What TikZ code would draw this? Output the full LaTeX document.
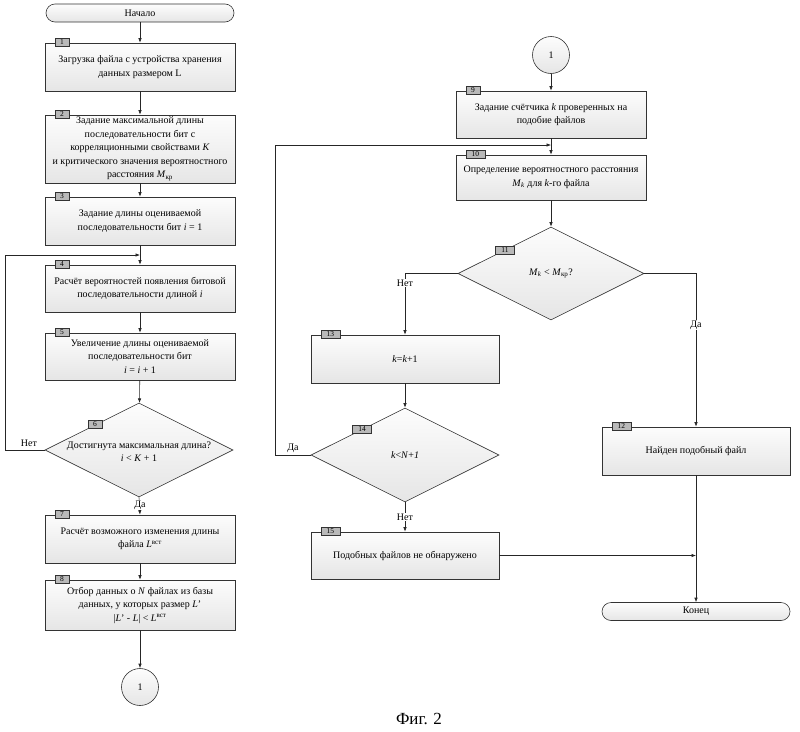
\documentclass[tikz,border=0pt]{standalone}
\usepackage{fontspec}
\setmainfont{Liberation Serif}
\usetikzlibrary{shapes.geometric,arrows.meta,calc}
\newcommand\vi[1]{\textit{#1}}
\begin{document}
\begin{tikzpicture}[x=1pt,y=-1pt,
  shd/.style={top color=gray!2, bottom color=gray!20},
  box/.style={draw=black!80, line width=0.6pt, shd, minimum width=190pt, align=center,
    font=\fontsize{10}{13.5}\selectfont, inner sep=1pt},
  term/.style={box, rounded corners=9pt, minimum width=188pt, minimum height=18pt},
  dia/.style={diamond, draw=black!80, line width=0.6pt, shd, inner sep=0pt, minimum width=188pt, minimum height=94pt},
  dtext/.style={align=center, font=\fontsize{10}{13.5}\selectfont, inner sep=0pt},
  circ/.style={circle, draw=black!80, line width=0.6pt, shd, minimum size=37pt, inner sep=0pt, font=\fontsize{10}{12}\selectfont},
  tag/.style={draw=black!80, fill=gray!55, line width=0.5pt, inner sep=0pt, minimum height=8pt, minimum width=14pt,
    font=\fontsize{7.5}{8}\selectfont, anchor=west},
  tagw/.style={tag, minimum width=19pt},
  lbl/.style={inner sep=1pt, font=\fontsize{10}{11}\selectfont},
  lblw/.style={lbl, fill=white},
  arr/.style={line width=0.6pt, draw=black!85, -{Latex[length=4.5pt,width=3.5pt]}},
  ln/.style={line width=0.6pt, draw=black!85}
]
\useasboundingbox (0,0) rectangle (800,731);

% ---------- left column ----------
\node[term] (start) at (140,13) {Начало};
\node[box, minimum height=48pt] (b1) at (140,67) {Загрузка файла с устройства хранения\\данных размером L};
\node[box, minimum height=68pt] (b2) at (140,149) {Задание максимальной длины\\последовательности бит с\\корреляционными свойствами \vi{K}\\и критического значения вероятностного\\расстояния \vi{M}\textsubscript{кр}};
\node[box, minimum height=48pt] (b3) at (140,221) {Задание длины оцениваемой\\последовательности бит \vi{i} = 1};
\node[box, minimum height=47pt] (b4) at (140,288.5) {Расчёт вероятностей появления битовой\\последовательности длиной \vi{i}};
\node[box, minimum height=47pt] (b5) at (140,356.5) {Увеличение длины оцениваемой\\последовательности бит\\\vi{i} = \vi{i} + 1};
\node[dia] (d6) at (139,450) {};
\node[dtext] (d6t) at (139,451.5) {Достигнута максимальная длина?\\\vi{i} < \vi{K} + 1};
\node[box, minimum height=48pt] (b7) at (140,539) {Расчёт возможного изменения длины\\файла \vi{L}\textsuperscript{вст}};
\node[box, minimum height=50pt] (b8) at (140,605) {Отбор данных о \vi{N} файлах из базы\\данных, у которых размер \vi{L}’\\|\vi{L}’ - \vi{L}| < \vi{L}\textsuperscript{вст}};
\node[circ] (c1) at (140,687) {1};

% ---------- right column ----------
\node[circ] (c2) at (551,55) {1};
\node[box, minimum height=47pt] (b9) at (551,114.5) {Задание счётчика \vi{k} проверенных на\\подобие файлов};
\node[box, minimum height=45pt] (b10) at (551,177.5) {Определение вероятностного расстояния\\\vi{M}\textsubscript{\vi{k}} для \vi{k}-го файла};
\node[dia, minimum width=186pt, minimum height=93pt] (d11) at (551,273.5) {};
\node[dtext] (d11t) at (551,273.5) {\vi{M}\textsubscript{\vi{k}} < \vi{M}\textsubscript{кр}?};
\node[box, minimum width=188pt, minimum height=48pt] (b13) at (405,359) {\vi{k}=\vi{k}+1};
\node[dia] (d14) at (405,455) {};
\node[dtext] (d14t) at (405,455) {\vi{k}<\vi{N}+\vi{1}};
\node[box, minimum width=188pt, minimum height=47pt] (b15) at (405,555.5) {Подобных файлов не обнаружено};
\node[box, minimum width=188pt, minimum height=48pt] (b12) at (696,451) {Найден подобный файл};
\node[term] (end) at (696,611.5) {Конец};

\node[font=\fontsize{17}{20}\selectfont, inner sep=0pt] (fig) at (419,719) {Фиг. 2};

% ---------- tags ----------
\node[tag] (t1) at ([xshift=10pt,yshift=0.5pt]b1.north west) {1};
\node[tag] (t2) at ([xshift=10pt,yshift=0.5pt]b2.north west) {2};
\node[tag] (t3) at ([xshift=10pt,yshift=0.5pt]b3.north west) {3};
\node[tag] (t4) at ([xshift=10pt,yshift=0.5pt]b4.north west) {4};
\node[tag] (t5) at ([xshift=10pt,yshift=0.5pt]b5.north west) {5};
\node[tag, anchor=center] (t6) at ([xshift=-44pt,yshift=26pt]d6.center) {6};
\node[tag] (t7) at ([xshift=10pt,yshift=0.5pt]b7.north west) {7};
\node[tag] (t8) at ([xshift=10pt,yshift=0.5pt]b8.north west) {8};
\node[tag] (t9) at ([xshift=10pt,yshift=0.5pt]b9.north west) {9};
\node[tagw] (t10) at ([xshift=10pt,yshift=0.5pt]b10.north west) {10};
\node[tagw, anchor=center] (t11) at ([xshift=-46pt,yshift=23.5pt]d11.center) {11};
\node[tagw] (t12) at ([xshift=10pt,yshift=0.5pt]b12.north west) {12};
\node[tagw] (t13) at ([xshift=10pt,yshift=0.5pt]b13.north west) {13};
\node[tagw, anchor=center] (t14) at ([xshift=-43pt,yshift=26pt]d14.center) {14};
\node[tagw] (t15) at ([xshift=10pt,yshift=0.5pt]b15.north west) {15};

% ---------- connectors: left ----------
\draw[arr] (start) -- (b1);
\draw[arr] (b1) -- (b2);
\draw[arr] (b2) -- (b3);
\draw[arr] (b3) -- (b4);
\draw[arr] (b4) -- (b5);
\draw[arr] (b5) -- (d6);
\coordinate (j1) at (140,255);
\coordinate (l1) at (5,450);
\draw[arr] (d6.west) -- (l1) |- (j1);
\node[lbl] (no6) at (29,443) {Нет};
\draw[arr] (d6.south) -- (b7.north);
\node[lblw] (yes6) at (140,505) {Да};
\draw[arr] (b7) -- (b8);
\draw[arr] (b8) -- (c1);

% ---------- connectors: right ----------
\draw[arr] (c2) -- (b9);
\draw[arr] (b9) -- (b10);
\draw[arr] (b10) -- (d11);
\draw[arr] (d11.west) -| (b13.north);
\node[lblw] (no11) at (405,283) {Нет};
\draw[arr] (d11.east) -| (b12.north);
\node[lblw] (yes11) at (696,325) {Да};
\draw[arr] (b13) -- (d14);
\coordinate (j2) at (551,145);
\coordinate (l2) at (275,455);
\draw[arr] (d14.west) -- (l2) |- (j2);
\node[lbl] (yes14) at (293,448) {Да};
\draw[arr] (d14.south) -- (b15.north);
\node[lblw] (no14) at (405,517) {Нет};
\coordinate (j3) at (696,555.5);
\draw[arr] (b15.east) -- (j3);
\draw[arr] (b12) -- (end);
\end{tikzpicture}
\end{document}
